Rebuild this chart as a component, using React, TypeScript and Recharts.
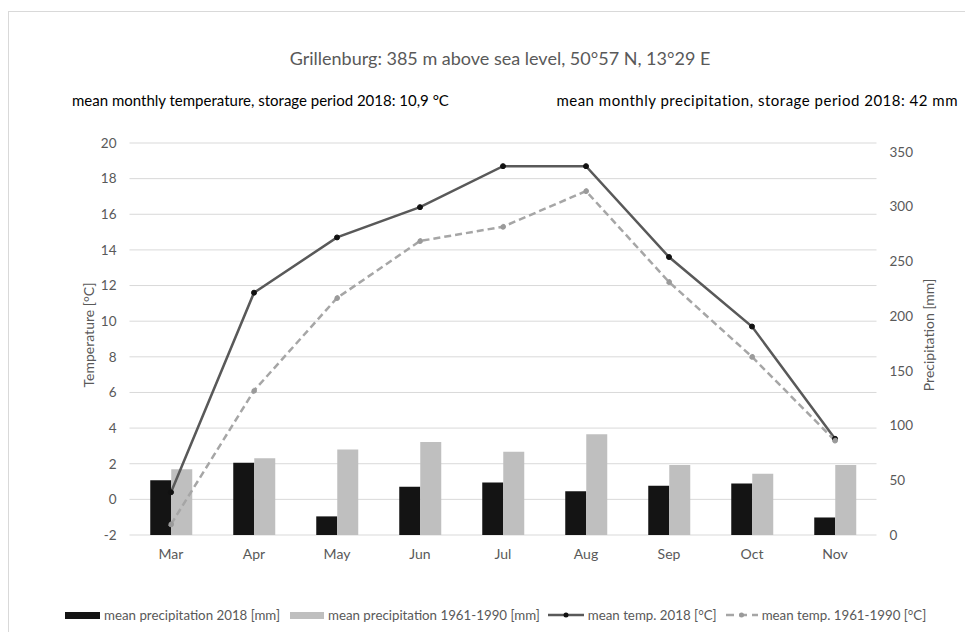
import { ComposedChart, Bar, Line, XAxis, YAxis, CartesianGrid } from 'recharts';

const months = ['Mar', 'Apr', 'May', 'Jun', 'Jul', 'Aug', 'Sep', 'Oct', 'Nov'];
const precip2018 = [50, 66, 17, 44, 48, 40, 45, 47, 16];
const precipNormal = [60, 70, 78, 85, 76, 92, 64, 56, 64];
const temp2018 = [0.4, 11.6, 14.7, 16.4, 18.7, 18.7, 13.6, 9.7, 3.4];
const tempNormal = [-1.4, 6.1, 11.3, 14.5, 15.3, 17.3, 12.2, 8.0, 3.3];
const tempTicks = [-2, 0, 2, 4, 6, 8, 10, 12, 14, 16, 18, 20];
const precipTicks = [0, 50, 100, 150, 200, 250, 300, 350];

const data = months.map((m, i) => ({
  month: m,
  p18: precip2018[i],
  pNorm: precipNormal[i],
  t18: temp2018[i],
  tNorm: tempNormal[i],
}));

const FONT = 'Lato, "Noto Sans", sans-serif';
const GREY_TEXT = '#595959';

function LegendItem({ swatch, label, gap = 8 }: { swatch: React.ReactNode; label: string; gap?: number }) {
  return (
    <div style={{ display: 'flex', alignItems: 'center', marginRight: gap }}>
      {swatch}
      <span style={{ marginLeft: 4 }}>{label}</span>
    </div>
  );
}

export default function App() {
  return (
    <div
      style={{
        position: 'relative',
        width: 964,
        height: 620,
        marginTop: 3,
        borderTop: '1px solid #d9d9d9',
        borderLeft: '1px solid #d9d9d9',
        fontFamily: FONT,
        background: '#fff',
      }}
    >
      <div style={{ position: 'absolute', left: 191, top: 36, width: 600, textAlign: 'center', fontSize: 18, lineHeight: '20px', color: GREY_TEXT }}>
        Grillenburg: 385 m above sea level, 50°57 N, 13°29 E
      </div>
      <div style={{ position: 'absolute', left: 63, top: 79, fontSize: 15, lineHeight: '18px', color: '#000' }}>
        mean monthly temperature, storage period 2018: 10,9 °C
      </div>
      <div style={{ position: 'absolute', right: 15, top: 79, fontSize: 15, letterSpacing: 0.5, lineHeight: '18px', color: '#000' }}>
        mean monthly precipitation, storage period 2018: 42 mm
      </div>
      <div style={{ position: 'absolute', left: 79, top: 323, width: 0, height: 0 }}>
        <div style={{ position: 'absolute', transform: 'translate(-50%, -50%) rotate(-90deg)', whiteSpace: 'nowrap', fontSize: 14, color: GREY_TEXT }}>
          Temperature [°C]
        </div>
      </div>
      <div style={{ position: 'absolute', left: 919, top: 323, width: 0, height: 0 }}>
        <div style={{ position: 'absolute', transform: 'translate(-50%, -50%) rotate(-90deg)', whiteSpace: 'nowrap', fontSize: 14, color: GREY_TEXT }}>
          Precipitation [mm]
        </div>
      </div>

      <div style={{ position: 'absolute', left: 0, top: 0 }}>
        <ComposedChart
          width={964}
          height={620}
          data={data}
          margin={{ top: 131, right: 0, bottom: 67, left: 0 }}
          barGap={0}
          barCategoryGap="25%"
        >
          <CartesianGrid yAxisId="temp" vertical={false} stroke="#d9d9d9" strokeWidth={1} />
          <XAxis
            dataKey="month"
            height={30}
            axisLine={false}
            tickLine={false}
            tickSize={0}
            tickMargin={14}
            tick={{ fill: GREY_TEXT, fontSize: 14, fontFamily: FONT }}
          />
          <YAxis
            yAxisId="temp"
            orientation="left"
            width={120.5}
            domain={[-2, 20]}
            ticks={tempTicks}
            interval={0}
            axisLine={false}
            tickLine={false}
            tickSize={0}
            tickMargin={13}
            tick={{ fill: GREY_TEXT, fontSize: 13.5, fontFamily: FONT }}
          />
          <YAxis
            yAxisId="prec"
            orientation="right"
            width={96.5}
            domain={[0, 358]}
            ticks={precipTicks}
            interval={0}
            axisLine={false}
            tickLine={false}
            tickSize={0}
            tickMargin={13}
            tick={{ fill: GREY_TEXT, fontSize: 13.5, fontFamily: FONT, textAnchor: 'start' }}
          />
          <Bar yAxisId="prec" dataKey="p18" fill="#141414" isAnimationActive={false} />
          <Bar yAxisId="prec" dataKey="pNorm" fill="#bfbfbf" isAnimationActive={false} />
          <Line
            yAxisId="temp"
            dataKey="t18"
            stroke="#595959"
            strokeWidth={2.5}
            dot={{ r: 2.5, fill: '#111', stroke: '#111', strokeWidth: 1 }}
            isAnimationActive={false}
          />
          <Line
            yAxisId="temp"
            dataKey="tNorm"
            stroke="#a6a6a6"
            strokeWidth={2.5}
            strokeDasharray="7 4"
            dot={{ r: 2.5, fill: '#9a9a9a', stroke: '#9a9a9a', strokeWidth: 1 }}
            isAnimationActive={false}
          />
        </ComposedChart>
      </div>

      <div
        style={{
          position: 'absolute',
          left: 56,
          top: 595,
          display: 'flex',
          alignItems: 'center',
          fontSize: 13.3,
          lineHeight: '16px',
          color: GREY_TEXT,
          whiteSpace: 'nowrap',
        }}
      >
        <LegendItem gap={10} swatch={<div style={{ width: 35, height: 7, background: '#141414' }} />} label="mean precipitation 2018 [mm]" />
        <LegendItem swatch={<div style={{ width: 34, height: 7, background: '#bfbfbf' }} />} label="mean precipitation 1961-1990 [mm]" />
        <LegendItem
          swatch={
            <svg width={36} height={10}>
              <line x1={0} y1={5} x2={36} y2={5} stroke="#595959" strokeWidth={2.5} />
              <circle cx={18} cy={5} r={2.5} fill="#111" />
            </svg>
          }
          label="mean temp. 2018 [°C]"
        />
        <LegendItem
          swatch={
            <svg width={33} height={10}>
              <line x1={0} y1={5} x2={33} y2={5} stroke="#a6a6a6" strokeWidth={2.5} strokeDasharray="8 5" strokeDashoffset={-1} />
              <circle cx={16.5} cy={5} r={2.5} fill="#9a9a9a" />
            </svg>
          }
          label="mean temp. 1961-1990 [°C]"
        />
      </div>
    </div>
  );
}
